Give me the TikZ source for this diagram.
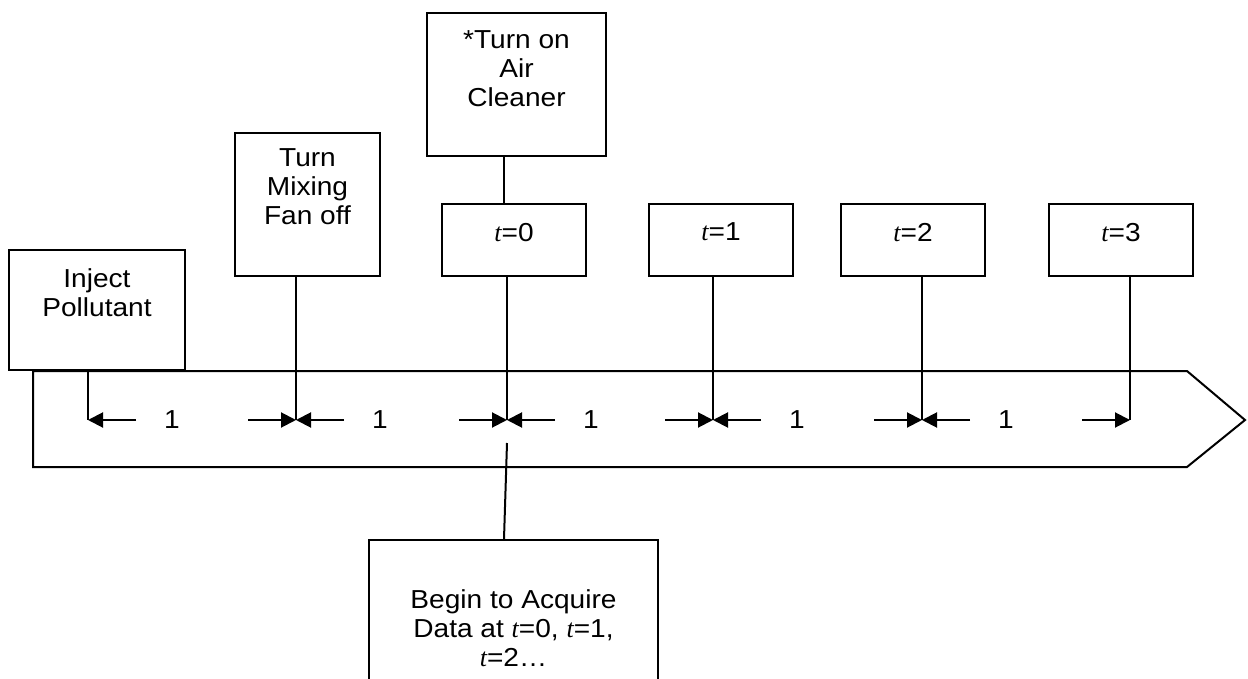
\documentclass[tikz,border=0pt]{standalone}
\usepackage{fontspec}
\setmainfont{Liberation Sans}[FakeStretch=1.08]
\newfontfamily\timefont{Liberation Serif}
\usetikzlibrary{arrows.meta}
\newcommand{\tvar}{{\timefont\itshape t}}

\tikzset{
  box/.style={draw, line width=1pt, anchor=north west, inner sep=0pt},
  tbox/.style={box, minimum width=72pt, minimum height=36pt},
  txt/.style={anchor=north, align=center, inner sep=0pt, font=\fontsize{13}{14.5}\selectfont},
  dimarrow/.style={line width=1pt, -{Triangle[length=7.5pt,width=7.5pt]}},
}

\begin{document}
\begin{tikzpicture}[x=0.5pt, y=0.5pt, line width=1pt]
    \useasboundingbox (0,0) rectangle (1248,-679);
    \clip (0,0) rectangle (1248,-679);

    % time band
    \draw (33,-371) -- (1187,-371) -- (1245,-420) -- (1187,-467) -- (33,-467) -- cycle;

    % tick points on the band
    \coordinate (k0) at (88,-420);
    \coordinate (k1) at (296,-420);
    \coordinate (k2) at (507,-420);
    \coordinate (k3) at (713,-420);
    \coordinate (k4) at (922,-420);
    \coordinate (k5) at (1130,-420);
    \coordinate (ac) at (504,0);
    \coordinate (q) at (507,-443);

    % event boxes
    \node[box, minimum width=88pt, minimum height=60pt] (inj) at (8,-249) {};
    \node[txt] (injt) at ([yshift=-9.5pt]inj.north) {Inject\\Pollutant};

    \node[box, minimum width=72.5pt, minimum height=71.5pt] (fan) at (234,-132) {};
    \node[txt] (fant) at ([yshift=-8pt]fan.north) {Turn\\Mixing\\Fan off};

    \node[box, minimum width=89.5pt, minimum height=71.5pt] (air) at (426,-12) {};
    \node[txt] (airt) at ([yshift=-9pt]air.north) {*Turn on\\Air\\Cleaner};

    \node[tbox] (t0) at (441,-203) {};
    \node[tbox] (t1) at (648,-203) {};
    \node[tbox] (t2) at (840,-203) {};
    \node[tbox] (t3) at (1048,-203) {};
    \foreach \i in {0,...,3} {
        \node[txt] (tt\i) at ([yshift=-9.5pt]t\i.north) {\tvar=\i};
    }

    \node[box, minimum width=144.5pt, minimum height=90pt] (acq) at (368,-539) {};
    \node[txt] (acqt) at ([yshift=-25pt]acq.north) {Begin to Acquire\\Data at \tvar=0, \tvar=1,\\\tvar=2…};

    % connectors
    \draw (inj.south -| k0) -- (k0);
    \draw (fan.south -| k1) -- (k1);
    \draw (t0.south -| k2) -- (k2);
    \draw (t1.south -| k3) -- (k3);
    \draw (t2.south -| k4) -- (k4);
    \draw (t3.south -| k5) -- (k5);
    \draw (air.south -| ac) -- (t0.north -| ac);
    \draw (q) -- (acq.north -| ac);

    % intervals
    \foreach \i in {0,...,4} {
        \draw[dimarrow] ([xshift=24pt]k\i) -- (k\i);
        \node[txt, anchor=center] (n\i) at ([xshift=42pt]k\i) {1};
    }
    \foreach \i in {1,...,5} {
        \draw[dimarrow] ([xshift=-24pt]k\i) -- (k\i);
    }
\end{tikzpicture}
\end{document}
